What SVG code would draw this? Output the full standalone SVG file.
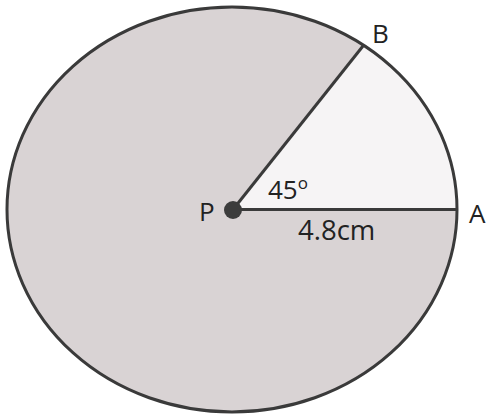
<svg xmlns="http://www.w3.org/2000/svg" width="488" height="415" viewBox="0 0 488 415">
<style>
.ln{stroke:#3a3a3a;stroke-width:3;fill:none}
.lbl{font-family:"Open Sans","Liberation Sans",sans-serif;font-size:26px;fill:#222}
</style>
<rect width="488" height="415" fill="#ffffff"/>
<g id="circle">
<ellipse cx="232" cy="209.5" rx="225" ry="202.5" fill="#d9d3d4"/>
<path id="sector" d="M233 209.5 L457 209.5 A225 202.5 0 0 0 363 45 Z" fill="#f6f4f5"/>
<ellipse cx="232" cy="209.5" rx="225" ry="202.5" class="ln"/>
</g>
<g id="radii">
<line x1="233" y1="209.5" x2="457" y2="209.5" class="ln"/>
<line x1="233" y1="209.5" x2="363" y2="46" class="ln"/>
</g>
<g id="P">
<circle cx="233" cy="210" r="9" fill="#3c3c3c"/>
<text x="199" y="221" class="lbl">P</text>
</g>
<g id="A"><text x="469" y="223" class="lbl">A</text></g>
<g id="B"><text x="372" y="43" class="lbl">B</text></g>
<text x="268" y="199" class="lbl">45<tspan font-size="17" dy="-10">o</tspan></text>
<text x="298" y="240" class="lbl" style="font-size:27.5px">4.8cm</text>
</svg>
